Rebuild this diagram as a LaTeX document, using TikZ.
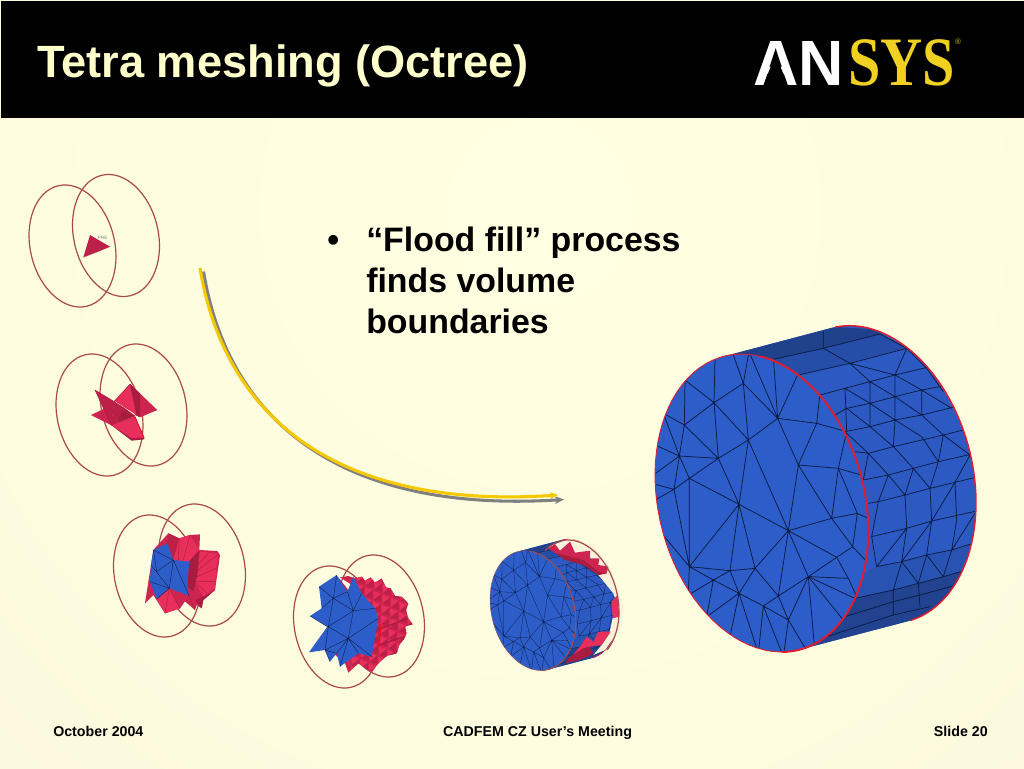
\documentclass[tikz,border=0pt]{standalone}
\usepackage{fontspec}
\setmainfont{Liberation Sans}
\newfontfamily\logoserif{Liberation Serif}
\usetikzlibrary{arrows.meta}
\definecolor{barcream}{HTML}{FFFFCC}
\definecolor{bgA}{HTML}{FFFFE2}
\definecolor{bgB}{HTML}{FEFCDF}
\definecolor{bgC}{HTML}{F9F6DC}
\definecolor{bgD}{HTML}{F4F0D8}
\definecolor{bgE}{HTML}{EAE7D8}
\definecolor{bgF}{HTML}{D8D8D8}
\definecolor{ringred}{HTML}{A84A48}
\definecolor{arrowyellow}{HTML}{F5C800}
\definecolor{arrowgrey}{HTML}{808080}
\definecolor{logoyellow}{HTML}{F0D020}
\definecolor{meshblue}{HTML}{2D5DC8}
\definecolor{sideblue}{HTML}{2C5AC2}
\definecolor{edgered}{HTML}{E01C30}
\definecolor{meshline}{HTML}{0A1A40}
\definecolor{redA}{HTML}{CE2450}
\definecolor{redB}{HTML}{E82E5A}
\definecolor{redC}{HTML}{A81C40}
\definecolor{redD}{HTML}{BC2048}
\definecolor{creamfill}{HTML}{F7F3DA}
\pgfdeclareradialshading{slidebg}{\pgfpoint{0bp}{0bp}}{
 color(0bp)=(bgA);
 color(18bp)=(bgB);
 color(30bp)=(bgC);
 color(36bp)=(bgD);
 color(43bp)=(bgE);
 color(50bp)=(bgF)}
\tikzset{
 ringline/.style={draw=ringred,line width=.9pt},
 meshedge/.style={draw=meshline,line width=#1},
 slidetext/.style={inner sep=0pt,font=\fontsize{25.4}{30.7}\selectfont\bfseries,anchor=base west},
 foottext/.style={inner sep=0pt,font=\fontsize{10.67}{12}\selectfont\bfseries,anchor=base},
 facetline/.style={draw=redC,line width=.3pt},
}
\newcommand{\sideoutline}{(222,109) -- plot[domain=-90:90,samples=50,variable=\q] ({658+299.3*cos(\q)+113.1*sin(\q)},{464-76.8*cos(\q)+440.3*sin(\q)}) -- (448,989) -- cycle}
\newcommand{\frontoutline}{plot[domain=0:360,samples=90,variable=\q] ({335+299.3*cos(\q)+113.1*sin(\q)},{549-76.8*cos(\q)+440.3*sin(\q)}) -- cycle}
\newcommand{\ringpair}[4]{%
 \draw[ringline,shift={(#1,#2)},rotate=13.3] (0,0) ellipse (42.2 and 61.9);
 \draw[ringline,shift={(#3,#4)},rotate=13.3] (0,0) ellipse (42.2 and 61.9);}
\newcommand{\meshcylinder}[3]{%
 \fill[sideblue] \sideoutline;
 \begin{scope}
 \clip \sideoutline;
 \fill[sideblue!72!black] (222,109)--(545,20)--(700,30)--(690,42)--(520,85)--(370,118)--cycle;
 \fill[sideblue!87!black] (370,118)--(520,85)--(690,42)--(770,85)--(600,130)--(445,165)--cycle;
 \fill[sideblue!92!black] (640,760)--(680,740)--(755,725)--(905,690)--(990,660)--(960,760)--(880,770)--(730,810)--(615,835)--cycle;
 \fill[sideblue!74!black] (615,835)--(730,810)--(880,770)--(960,745)--(900,860)--(780,930)--(448,995)--(590,880)--cycle;
 \draw[meshedge=#1]
  (370,118)--(520,85)--(690,42) (445,165)--(600,130)--(770,85)
  (510,225)--(585,205)--(660,185)--(735,165)--(840,140)
  (555,285)--(590,265)--(660,250)--(735,230)--(815,210)--(895,195)
  (585,335)--(660,320)--(735,300)--(815,285)--(925,258)
  (615,395)--(655,400)--(730,380)--(880,345)--(960,325)
  (640,480)--(715,465)--(790,445)--(865,425)--(975,400)
  (655,550)--(685,545)--(765,525)--(840,505)--(915,487)--(985,470)
  (665,650)--(770,625)--(845,603)--(985,572)
  (680,740)--(755,725)--(830,705)--(905,690)--(985,665)
  (615,835)--(730,810)--(805,790)--(880,770)--(950,750)
  (585,890)--(730,845)--(810,825)--(920,795)
  (530,950)--(730,885)--(840,860)
  (520,35)--(520,85) (585,205)--(590,335) (660,185)--(660,320) (735,165)--(735,300)--(730,380)
  (815,210)--(815,285) (880,345)--(865,425) (915,487)--(920,600)--(905,690)
  (765,525)--(770,625)--(755,725)--(730,810)--(730,885)
  (840,505)--(845,603)--(830,705)--(805,790)--(810,860)
  (790,445)--(765,525) (715,465)--(685,545) (655,400)--(640,480) (865,425)--(840,505)
  (960,405)--(915,487)--(845,603) (978,575)--(905,690) (845,603)--(755,725) (770,625)--(680,740)
  (685,545)--(665,650)--(680,740)
  (585,205)--(660,250)--(735,300)--(815,350)--(865,425)
  (660,185)--(735,230)--(815,285)--(880,345)--(960,405)
  (735,165)--(815,210)--(905,265) (590,265)--(660,320)--(730,380)--(790,445)--(840,505)
  (585,335)--(655,400)--(715,465)--(765,525) (830,145)--(880,215)
  (520,85)--(600,130)--(735,165) (600,130)--(660,185) (690,42)--(770,85)--(735,165) (770,85)--(830,145)
  (805,790)--(880,770)--(905,690) (730,810)--(755,725) (805,790)--(755,725) (880,770)--(830,705);
 \end{scope}
 \draw[draw=edgered,line width=#2] plot[domain=-88:88,samples=70,variable=\q] ({658+299.3*cos(\q)+113.1*sin(\q)},{464-76.8*cos(\q)+440.3*sin(\q)});
 \fill[meshblue] \frontoutline;
 \begin{scope}
 \clip \frontoutline;
 \draw[meshedge=#1]
  (245,90)--(280,190) (297,95)--(280,190) (297,95)--(383,295) (370,110)--(383,295) (445,160)--(383,295)
  (510,220)--(500,310) (383,295)--(500,310) (195,115)--(192,248) (280,190)--(192,248) (280,190)--(383,295)
  (280,190)--(295,360) (192,248)--(295,360) (192,248)--(205,415) (105,180)--(192,248) (105,180)--(103,315)
  (40,280)--(103,315) (192,248)--(103,315) (103,315)--(88,408) (40,280)--(88,408) (103,315)--(205,415)
  (15,375)--(88,408) (88,408)--(205,415) (88,408)--(118,475) (88,408)--(72,508) (10,465)--(88,408)
  (5,490)--(72,508) (118,475)--(72,508) (15,540)--(72,508) (118,475)--(205,415) (118,475)--(267,553)
  (118,475)--(118,740) (72,508)--(118,740) (35,640)--(118,740) (205,415)--(267,553) (295,360)--(205,415)
  (295,360)--(267,553) (295,360)--(415,632) (295,360)--(383,295) (383,295)--(445,435) (500,310)--(445,435)
  (500,310)--(590,335) (445,435)--(565,445) (590,335)--(565,445) (445,435)--(415,632) (445,435)--(545,595)
  (565,445)--(545,595) (565,445)--(622,580) (650,470)--(565,445) (622,580)--(545,595) (622,580)--(608,680)
  (665,600)--(622,580) (545,595)--(608,680) (415,632)--(545,595) (415,632)--(560,712) (608,680)--(560,712)
  (655,730)--(608,680) (560,712)--(475,770) (415,632)--(475,770) (415,632)--(385,828) (415,632)--(267,553)
  (415,632)--(315,745) (267,553)--(118,740) (267,553)--(240,752) (267,553)--(315,745) (118,740)--(240,752)
  (240,752)--(315,745) (118,740)--(190,780) (240,752)--(190,780) (240,752)--(267,820) (315,745)--(267,820)
  (315,745)--(385,828) (475,770)--(385,828) (475,770)--(415,900) (475,770)--(495,1000) (475,770)--(580,900)
  (475,770)--(595,775) (560,712)--(595,775) (595,775)--(625,840) (475,770)--(625,840) (118,740)--(115,825)
  (190,780)--(115,825) (190,780)--(170,890) (190,780)--(267,820) (267,820)--(170,890) (267,820)--(240,950)
  (267,820)--(325,1000) (267,820)--(340,858) (385,828)--(340,858) (385,828)--(415,900) (340,858)--(415,900)
  (340,858)--(325,1000) (340,858)--(400,1010) (415,900)--(400,1010) (415,900)--(475,1000);
 \end{scope}
 \draw[draw=#3,line width=.6*#2] \frontoutline;
 \draw[draw=#3,line width=1.3*#2] plot[domain=-70:100,samples=60,variable=\q] ({335+299.3*cos(\q)+113.1*sin(\q)},{549-76.8*cos(\q)+440.3*sin(\q)});
}
\begin{document}
\begin{tikzpicture}[x=0.75pt,y=-0.75pt]
\useasboundingbox (0,0) rectangle (1024,768);
% background
\begin{scope}
 \clip (0,0) rectangle (1024,768);
 \shade[shading=slidebg] (540,210) circle (780);
 \fill[black] (1,1) rectangle (1024,118);
\end{scope}
% title
\node[slidetext,font=\fontsize{33.9}{36}\selectfont\bfseries,text=barcream] (title) at (37,77) {Tetra meshing (Octree)};
% logo
\node[inner sep=0pt,anchor=base west,text=white,xscale=.98,font=\fontsize{48}{48}\selectfont\bfseries] (logoan) at (753,85) {AN};
\fill[black] (775.6,54)--(763.2,86)--(788,86)--cycle;
\node[inner sep=0pt,anchor=base west,text=logoyellow,xscale=.84,font=\fontsize{52}{52}\selectfont\logoserif\bfseries] (logosys) at (848,85) {SYS};
\node[inner sep=0pt,anchor=center,text=logoyellow!70!black,font=\fontsize{6}{6}\selectfont\bfseries] (logor) at (958,42) {®};
% bullet
\node[slidetext] (bullet) at (327,251.5) {•};
\node[slidetext] (line1) at (366,251.5) {“Flood fill” process};
\node[slidetext] (line2) at (366,292.5) {finds volume};
\node[slidetext] (line3) at (366,333.5) {boundaries};
% footer
\node[foottext,anchor=base west] (footl) at (53,736) {October 2004};
\node[foottext] (footc) at (537.5,736) {CADFEM CZ User’s Meeting};
\node[foottext,anchor=base east] (footr) at (988,736) {Slide 20};
% arrow
\coordinate (arrA) at (200,268); \coordinate (arrB) at (558,495);
\coordinate (shA) at (203.5,271.5); \coordinate (shB) at (564,499.5);
\draw[arrowgrey,line width=2.3pt,-{Stealth[length=7pt,width=6pt]}] (shA) .. controls (228.5,423.5) and (343.5,513.5) .. (shB);
\draw[arrowyellow,line width=2.3pt,-{Stealth[length=6pt,width=5pt]}] (arrA) .. controls (225,420) and (340,510) .. (arrB);
% object 1
\ringpair{72.5}{246}{116}{235.5}
\begin{scope}[shift={(80,225)},scale=1/3]
 \fill[redD] (30,30)--(90,65)--(10,97)--cycle;
 \fill[redC] (90,65)--(10,97)--(55,80)--cycle;
 \node[inner sep=0pt,text=gray,font=\fontsize{3.5}{4}\selectfont] (tinylabel) at (68,40) {PRE};
\end{scope}
% object 2
\ringpair{99.5}{415}{143.5}{405}
\begin{scope}[shift={(85,380)},scale=1/3]
 \fill[redA] (135,12)--(217,90)--(165,112)--(150,105)--cycle;
 \fill[redC] (135,12)--(165,40)--(165,110)--(152,105)--cycle;
 \fill[redB] (88,62)--(135,12)--(155,105)--(118,82)--cycle;
 \fill[redA] (18,105)--(60,85)--(78,135)--cycle;
 \fill[redD] (30,30)--(88,65)--(78,135)--cycle;
 \fill[redD] (88,65)--(120,85)--(150,108)--(78,135)--cycle;
 \fill[redC] (112,90)--(150,108)--(100,125)--cycle;
 \fill[redC] (78,135)--(140,182)--(178,178)--(150,110)--cycle;
 \fill[redB] (78,135)--(150,110)--(178,172)--(140,174)--cycle;
 \draw[facetline] (30,30)--(88,65)--(78,135)--cycle (88,65)--(135,12)--(155,105) (88,65)--(150,108) (78,135)--(150,110) (112,95)--(100,122);
 \draw[draw=red!90!black,line width=.4pt] (150,110)--(178,175);
\end{scope}
% object 3
\ringpair{157}{576}{202}{565}
\begin{scope}[shift={(140,525)},scale=1/3]
 \fill[redA] (15,235)--(40,75)--(85,25)--(118,40)--(150,30)--(180,28)--(178,75)--(232,78)--(240,90)--(225,195)--(190,225)--(185,250)--(170,240)--(165,255)--(130,225)--(120,250)--(75,265)--(40,210)--cycle;
 \fill[redD] (82,55)--(85,25)--(118,40)--(100,105)--cycle;
 \fill[redB] (100,105)--(118,40)--(150,30)--(178,75)--(148,110)--cycle;
 \fill[redB] (150,145)--(178,78)--(232,88)--(225,190)--(190,215)--cycle;
 \fill[redC] (148,110)--(178,78)--(172,150)--(160,200)--(142,185)--cycle;
 \fill[redB] (88,190)--(50,222)--(75,265)--(120,250)--cycle;
 \fill[redA] (88,190)--(147,212)--(120,250)--cycle;
 \fill[redC] (190,215)--(225,195)--(190,225)--(185,250)--(165,225)--cycle;
 \draw[facetline] (150,145)--(180,80) (150,145)--(205,85) (155,150)--(232,90) (160,160)--(228,130) (165,170)--(225,170) (170,175)--(200,205)
  (118,40)--(115,105) (150,30)--(130,105) (178,75)--(148,110) (88,190)--(75,265) (88,190)--(120,250) (147,212)--(165,255);
 \fill[meshblue] (40,75)--(82,55)--(100,105)--(148,110)--(145,140)--(142,185)--(147,212)--(88,190)--(50,222)--(30,170)--(33,120)--cycle;
 \draw[meshedge=.25pt] (100,105)--(88,190) (40,75)--(100,105) (33,120)--(88,190) (30,170)--(88,190) (100,105)--(147,212) (40,75)--(50,140) (100,105)--(50,140) (88,190)--(50,222);
\end{scope}
% object 4
\ringpair{337}{627}{381}{616}
\begin{scope}[shift={(100,490)},scale=1/3]
 \begin{scope}
  \clip (720,262)--(745,258)--(765,265)--(785,260)--(795,272)--(812,262)--(825,278)--(845,265)--(858,292)--(872,295)--(885,318)--(905,320)--(925,340)--(918,360)--(925,385)--(938,403)--(915,410)--(920,430)--(912,447)--(898,465)--(890,490)--(862,497)--(840,515)--(815,545)--(805,540)--(775,520)--(745,548)--(735,520)--(700,490)--(780,300)--cycle;
  \fill[redA] (690,250) rectangle (945,550);
  \foreach \i in {0,...,7} \foreach \j in {0,...,9} {
   \pgfmathsetmacro{\px}{770+\i*26-\j*2}
   \pgfmathsetmacro{\py}{250+\j*31+\i*11}
   \fill[redB] (\px,\py)--(\px+24,\py+8)--(\px+2,\py+26)--cycle;
   \fill[redD] (\px+24,\py+8)--(\px+2,\py+26)--(\px+24,\py+33)--cycle;
  }
  \draw[redC,line width=1pt] (850,510)--(915,470) (835,465)--(915,440) (830,420)--(925,385);
 \end{scope}
 \draw[draw=red,line width=.6pt] (843,405)--(836,470);
 \fill[redA] (715,262)--(745,300)--(735,320)--cycle;
 \fill[meshblue] (657,290)--(710,255)--(742,305)--(760,260)--(785,310)--(825,355)--(835,385)--(815,500)--(775,490)--(720,530)--(710,490)--(690,515)--(675,480)--(627,487)--(682,410)--(630,378)--(665,355)--cycle;
 \draw[meshedge=.25pt] (710,255)--(700,325) (657,290)--(700,325) (700,325)--(742,305) (742,305)--(760,362) (785,310)--(760,362) (700,325)--(760,362) (825,355)--(760,362) (700,325)--(665,355) (700,325)--(685,410) (760,362)--(745,445) (685,410)--(745,445) (685,410)--(760,362) (745,445)--(835,385) (745,445)--(815,500) (745,445)--(775,490) (745,445)--(720,530) (745,445)--(710,490) (685,410)--(675,480) (675,480)--(745,445) (630,378)--(682,410) (675,480)--(710,490) (675,480)--(690,515);
\end{scope}
% object 5
\begin{scope}[shift={(488,537)},scale=0.134]
 \meshcylinder{.2pt}{.5pt}{ringred}
\end{scope}
\begin{scope}[shift={(480,530)},scale=1/3]
 \fill[creamfill] (205,50)--(270,25)--(340,45)--(395,120)--(430,230)--(425,290)--(375,360)--(340,375)--(365,345)--(388,310)--(398,265)--(412,225)--(400,190)--(355,135)--(310,100)--(250,85)--cycle;
 \fill[redA] (205,55)--(225,42)--(240,62)--(270,35)--(285,68)--(330,62)--(330,85)--(358,85)--(355,105)--(385,110)--(380,130)--(355,135)--(310,100)--(250,85)--cycle;
 \fill[redC] (230,70)--(310,90)--(355,125)--(380,130)--(355,135)--(310,105)--(250,88)--cycle;
 \fill[redB] (395,215)--(412,195)--(418,260)--(398,265)--cycle;
 \fill[redB] (270,385)--(300,350)--(320,320)--(340,335)--(355,305)--(392,305)--(365,345)--(330,350)--(310,355)--cycle;
 \fill[redC] (255,400)--(270,380)--(310,355)--(330,350)--(340,372)--(300,390)--cycle;
\end{scope}
\begin{scope}
 \clip (545,530)--(640,530)--(640,650)--(598,650)--(600,560)--(545,552)--cycle;
 \draw[ringline,shift={(575.5,601)},rotate=13.3] (0,0) ellipse (42.2 and 61.9);
\end{scope}
% object 6: large cylinder
\begin{scope}[shift={(650,320)},scale=1/3]
 \meshcylinder{.55pt}{1.1pt}{edgered}
\end{scope}
\end{tikzpicture}
\end{document}
